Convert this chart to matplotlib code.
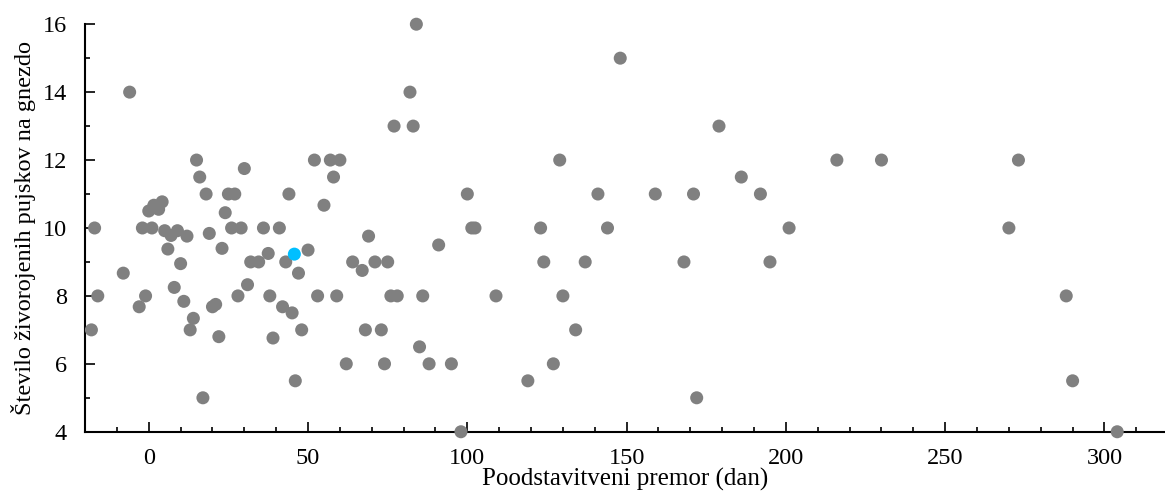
import matplotlib
matplotlib.use('Agg')
import matplotlib.pyplot as plt
from matplotlib.ticker import MultipleLocator

plt.rcParams['font.family'] = ['Liberation Serif', 'DejaVu Serif']

# podatki: premor (dan), število živorojenih pujskov
premor = [-18, -17, -16, -8, -6, -3, -2, -1, 0, 1, 1.6, 3.1, 4.2, 5, 6, 7, 8, 9,
          10, 11, 12, 13, 14, 15, 16, 17, 18, 19, 20, 21, 22, 23, 24, 25, 26,
          27, 28, 29, 30, 31, 32, 34.5, 36, 37.5, 38, 39, 41, 42, 43, 44, 45,
          46, 47, 48, 50, 52, 53, 55, 57, 58, 59, 60, 62, 64, 67, 68, 69, 71,
          73, 74, 75, 76, 77, 78, 82, 83, 84, 85, 86, 88, 91, 95, 98, 100,
          101.4, 102.4, 109, 119, 123, 124, 127, 129, 130, 134, 137, 141, 144,
          148, 159, 168, 171, 172, 179, 186, 192, 195, 201, 216, 230, 270, 273,
          288, 290, 304]
pujski = [7, 10, 8, 8.67, 14, 7.68, 10, 8, 10.5, 10, 10.67, 10.55, 10.77, 9.92,
          9.38, 9.78, 8.25, 9.92, 8.95, 7.84, 9.76, 7, 7.34, 12, 11.5, 5, 11,
          9.84, 7.68, 7.75, 6.8, 9.4, 10.45, 11, 10, 11, 8, 10, 11.75, 8.33, 9,
          9, 10, 9.25, 8, 6.76, 10, 7.68, 9, 11, 7.5, 5.5, 8.67, 7, 9.35, 12,
          8, 10.67, 12, 11.5, 8, 12, 6, 9, 8.75, 7, 9.76, 9, 7, 6, 9, 8, 13, 8,
          14, 13, 16, 6.5, 8, 6, 9.5, 6, 4, 11, 10, 10, 8, 5.5, 10, 9, 6, 12, 8,
          7, 9, 11, 10, 15, 11, 9, 11, 5, 13, 11.5, 11, 9, 10, 12, 12, 10, 12,
          8, 5.5, 4]

# povprečje (označeno modro)
povp_x = [45.7]
povp_y = [9.23]

fig = plt.figure(figsize=(11.65, 4.94), dpi=100)
ax = fig.add_axes([0.073, 0.126, 0.927, 0.825])

ax.scatter(premor, pujski, s=88, color='#808080', edgecolors='none',
           clip_on=False, zorder=3)
ax.scatter(povp_x, povp_y, s=88, color='#00bfff', edgecolors='none',
           clip_on=False, zorder=4)

ax.set_xlim(-20, 319)
ax.set_ylim(4, 16)

ax.spines['top'].set_visible(False)
ax.spines['right'].set_visible(False)
for s in ['left', 'bottom']:
    ax.spines[s].set_linewidth(1.5)

ax.xaxis.set_major_locator(MultipleLocator(50))
ax.xaxis.set_minor_locator(MultipleLocator(10))
ax.yaxis.set_major_locator(MultipleLocator(2))
ax.yaxis.set_minor_locator(MultipleLocator(1))

ax.tick_params(which='both', direction='in', width=1.2, labelsize=17.5)
ax.tick_params(axis='y', which='major', length=7, pad=13)
ax.tick_params(axis='y', which='minor', length=3.5)
ax.tick_params(axis='x', which='major', length=7, pad=12)
ax.tick_params(axis='x', which='minor', length=3.5)

ax.set_xlabel('Poodstavitveni premor (dan)', fontsize=18, labelpad=-1)
ax.set_ylabel('Število živorojenih pujskov na gnezdo', fontsize=17.5, labelpad=5)

fig.savefig('out.png', dpi=100)
